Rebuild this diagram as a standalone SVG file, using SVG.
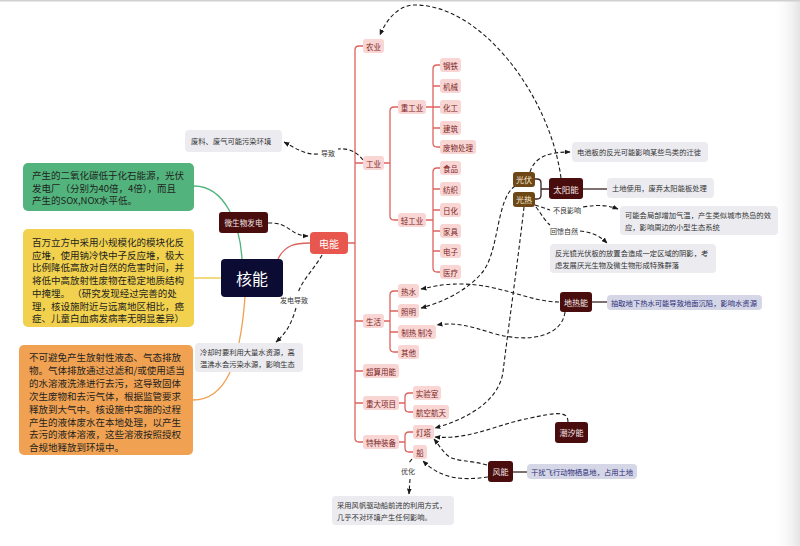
<svg xmlns="http://www.w3.org/2000/svg" width="800" height="546" viewBox="0 0 800 546">
<defs>
<marker id="arr" viewBox="0 0 10 10" refX="9" refY="5" markerWidth="6" markerHeight="6" markerUnits="userSpaceOnUse" orient="auto">
<path d="M0,1 L10,5 L0,9 z" fill="#1a1a1a"/>
</marker>
<linearGradient id="edge" x1="0" y1="0" x2="1" y2="0">
<stop offset="0" stop-color="#ffffff" stop-opacity="0"/>
<stop offset="1" stop-color="#e4e4e4"/>
</linearGradient>
</defs>
<style>
text { font-family: "Noto Sans CJK SC", "Noto Sans", sans-serif; }
.pill rect { fill: #f9d6d4; }
.pill text { fill: #7a1f1f; font-size: 7.5px; text-anchor: middle; dominant-baseline: central; }
.tree { stroke: #dc635d; stroke-width: 1.3; fill: none; }
.dash { stroke: #1a1a1a; stroke-width: 1.1; stroke-dasharray: 4 2.5; fill: none; }
.arrow { marker-end: url(#arr); }
.solid { stroke: #3a2222; stroke-width: 1.3; fill: none; }
.note rect { fill: #ebebf0; }
.note text { fill: #333333; font-size: 7.3px; dominant-baseline: central; }
.bnote rect { fill: #d5d7e6; }
.bnote text { fill: #2d2d7a; font-size: 7.3px; dominant-baseline: central; }
.dark rect { fill: #4a0d0d; }
.dark text { fill: #f3e6e6; font-size: 8px; text-anchor: middle; dominant-baseline: central; }
.gold rect { fill: #6e4716; }
.gold text { fill: #f6ecd8; font-size: 8px; text-anchor: middle; dominant-baseline: central; }
.lbl { fill: #333333; font-size: 7px; text-anchor: middle; dominant-baseline: central; }
.big text { fill: #1f1f1f; font-size: 9.5px; }
</style>

<rect x="0" y="0" width="800" height="546" fill="#ffffff"/>
<rect x="772" y="0" width="28" height="546" fill="url(#edge)"/>
<rect x="0" y="0" width="800" height="1.5" fill="#d0d0d0"/>

<g id="connectors">
<!-- left side solid -->
<path d="M194,186 C225,186 240,225 242,259" stroke="#4cb47a" stroke-width="1.3" fill="none"/>
<path d="M194,278 H221" stroke="#e8c93a" stroke-width="1.3" fill="none"/>
<path d="M245,297 C240,365 225,400 193,400" stroke="#ef9f4f" stroke-width="1.3" fill="none"/>
<path d="M278,259 C285,245 295,243 310,243" class="tree"/>
<!-- tree -->
<path class="tree" d="M363,46 H359 Q355,46 355,50 V438 Q355,442 359,442 H363"/>
<path class="tree" d="M348,243 H355 M355,163 H363 M355,321 H363 M355,371 H363 M355,403 H363"/>
<path class="tree" d="M384,163 H390 M398,107 H394 Q390,107 390,111 V216 Q390,220 394,220 H398"/>
<path class="tree" d="M426,107 H440 M440,65 H437 Q433,65 433,69 V143 Q433,147 437,147 H440 M433,86 H440 M433,128 H440"/>
<path class="tree" d="M426,220 H433 M440,168 H437 Q433,168 433,172 V268 Q433,272 437,272 H440 M433,189 H440 M433,210 H440 M433,231 H440 M433,251 H440"/>
<path class="tree" d="M384,321 H390 M398,291 H394 Q390,291 390,295 V348 Q390,352 394,352 H398 M390,311 H398 M390,332 H398"/>
<path class="tree" d="M399,403 H405 M413,393 H409 Q405,393 405,397 V408 Q405,412 409,412 H413"/>
<path class="tree" d="M399,442 H405 M413,432 H409 Q405,432 405,436 V448 Q405,452 409,452 H413"/>
<!-- solid dark -->
<path class="solid" d="M549,189 H541 M535,179 H537 Q541,179 541,183 V195 Q541,199 537,199 H535"/>
<path class="solid" d="M583,189 H607"/>
<path class="solid" d="M592,302 H607"/>
<path class="solid" d="M513,472 H527"/>
<!-- dashed -->
<path class="dash arrow" d="M268,223 C290,222 290,236 308,236"/>
<path class="dash" d="M322,255 C315,268 302,280 298,293"/>
<path class="dash arrow" d="M296,308 C291,325 286,333 276,342"/>
<path class="dash" d="M363,160 C356,151 348,148 338,149"/>
<path class="dash arrow" d="M318,154 C305,155 295,148 284,142"/>
<path class="dash arrow" d="M530,172 C535,156 550,152 570,152"/>
<path class="dash" d="M535,205 L550,210"/>
<path class="dash arrow" d="M583,207 C600,204 610,206 618,209"/>
<path class="dash" d="M536,207 C542,215 545,221 550,225"/>
<path class="dash arrow" d="M580,231 C592,232 600,236 607,243"/>
<path class="dash arrow" d="M561,178 C550,95 480,3 413,5 C398,6 386,20 380,35"/>
<path class="dash arrow" d="M515,186 C495,200 500,255 480,275 C465,292 440,303 421,308"/>
<path class="dash arrow" d="M524,207 C518,260 508,330 503,372 C499,400 470,418 435,428"/>
<path class="dash arrow" d="M559,302 C530,302 500,284 460,284 C440,284 432,287 421,289"/>
<path class="dash arrow" d="M565,312 C562,336 530,344 492,333 C470,326 455,322 437,325"/>
<path class="dash arrow" d="M568,422 C568,410 555,413 530,418 C495,425 470,440 435,437"/>
<path class="dash arrow" d="M487,465 C470,460 455,462 447,455 C441,449 438,444 434,439"/>
<path class="dash arrow" d="M488,477 C460,481 440,478 423,461"/>
<path class="dash" d="M412,459 L408,464"/>
<path class="dash arrow" d="M410,479 L409,494"/>
<text class="lbl" x="294" y="300">发电导致</text>
<text class="lbl" x="328" y="153">导致</text>
<text class="lbl" x="567" y="210">不良影响</text>
<text class="lbl" x="564" y="231">回馈自然</text>
<text class="lbl" x="408" y="471">优化</text>
</g>

<g id="left-green" class="big"><rect x="23" y="163" width="171" height="48" rx="5" fill="#52b47c"/>
<text x="32" y="175" dominant-baseline="central">产生的二氧化碳低于化石能源，光伏</text>
<text x="32" y="187.5" dominant-baseline="central">发电厂（分别为40倍，4倍），而且</text>
<text x="32" y="200" dominant-baseline="central">产生的SOx,NOx水平低。</text></g>

<g id="left-yellow" class="big"><rect x="23" y="229" width="171" height="98" rx="5" fill="#f1d14d"/>
<text x="32" y="242" dominant-baseline="central">百万立方中采用小规模化的模块化反</text>
<text x="32" y="254.7" dominant-baseline="central">应堆，使用钠冷快中子反应堆，极大</text>
<text x="32" y="267.4" dominant-baseline="central">比例降低高放对自然的危害时间，并</text>
<text x="32" y="280.1" dominant-baseline="central">将低中高放射性废物在稳定地质结构</text>
<text x="32" y="292.8" dominant-baseline="central">中掩埋。 （研究发现经过完善的处</text>
<text x="32" y="305.5" dominant-baseline="central">理，核设施附近与远离地区相比，癌</text>
<text x="32" y="318.2" dominant-baseline="central">症、儿童白血病发病率无明显差异）</text></g>

<g id="left-orange" class="big"><rect x="19" y="345" width="174" height="110" rx="5" fill="#f0a252"/>
<text x="29" y="357" dominant-baseline="central">不可避免产生放射性液态、气态排放</text>
<text x="29" y="369.9" dominant-baseline="central">物。气体排放通过过滤和/或使用适当</text>
<text x="29" y="382.8" dominant-baseline="central">的水溶液洗涤进行去污，这导致固体</text>
<text x="29" y="395.7" dominant-baseline="central">次生废物和去污气体，根据监管要求</text>
<text x="29" y="408.6" dominant-baseline="central">释放到大气中。核设施中实施的过程</text>
<text x="29" y="421.5" dominant-baseline="central">产生的液体废水在本地处理，以产生</text>
<text x="29" y="434.4" dominant-baseline="central">去污的液体溶液，这些溶液按照授权</text>
<text x="29" y="447.3" dominant-baseline="central">合规地释放到环境中。</text></g>

<g id="hexin"><rect x="221" y="259" width="62" height="38" rx="4" fill="#0b0b33"/>
<text x="252" y="278" fill="#ffffff" font-size="16" text-anchor="middle" dominant-baseline="central">核能</text></g>
<g id="weisheng" class="dark"><rect x="219" y="212" width="49" height="21" rx="3"/><text x="243.5" y="222.5" style="font-size:7.6px">微生物发电</text></g>
<g id="dianneng"><rect x="310" y="232" width="38" height="22" rx="4" fill="#e8574e"/>
<text x="329" y="243" fill="#ffffff" font-size="10" text-anchor="middle" dominant-baseline="central">电能</text></g>

<g id="note-feiliao" class="note"><rect x="185" y="130" width="97" height="22" rx="4"/><text x="191" y="141">废料、废气可能污染环境</text></g>
<g id="note-lengque" class="note"><rect x="195" y="343" width="108" height="29" rx="4"/><text x="200" y="352">冷却时要利用大量水资源，高</text><text x="200" y="364">温沸水会污染水源，影响生态</text></g>

<g id="n-nongye" class="pill"><rect x="363" y="39" width="21" height="14" rx="3"/><text x="373.5" y="46">农业</text></g>
<g id="n-gongye" class="pill"><rect x="363" y="156" width="21" height="14" rx="3"/><text x="373.5" y="163">工业</text></g>
<g id="n-shenghuo" class="pill"><rect x="363" y="314" width="21" height="14" rx="3"/><text x="373.5" y="321">生活</text></g>
<g id="n-chaosuan" class="pill"><rect x="363" y="364" width="36" height="14" rx="3"/><text x="381" y="371">超算用能</text></g>
<g id="n-zhongda" class="pill"><rect x="363" y="396" width="36" height="14" rx="3"/><text x="381" y="403">重大项目</text></g>
<g id="n-tezhong" class="pill"><rect x="363" y="435" width="36" height="14" rx="3"/><text x="381" y="442">特种装备</text></g>
<g id="n-zhonggongye" class="pill"><rect x="398" y="100" width="28" height="14" rx="3"/><text x="412" y="107">重工业</text></g>
<g id="n-qinggongye" class="pill"><rect x="398" y="213" width="28" height="14" rx="3"/><text x="412" y="220">轻工业</text></g>
<g id="n-gangtie" class="pill"><rect x="440" y="58" width="21" height="14" rx="3"/><text x="450.5" y="65">钢铁</text></g>
<g id="n-jixie" class="pill"><rect x="440" y="79" width="21" height="14" rx="3"/><text x="450.5" y="86">机械</text></g>
<g id="n-huagong" class="pill"><rect x="440" y="100" width="21" height="14" rx="3"/><text x="450.5" y="107">化工</text></g>
<g id="n-jianzhu" class="pill"><rect x="440" y="121" width="21" height="14" rx="3"/><text x="450.5" y="128">建筑</text></g>
<g id="n-feiwu" class="pill"><rect x="440" y="140" width="36" height="14" rx="3"/><text x="458" y="147">废物处理</text></g>
<g id="n-shipin" class="pill"><rect x="440" y="161" width="21" height="14" rx="3"/><text x="450.5" y="168">食品</text></g>
<g id="n-fangzhi" class="pill"><rect x="440" y="182" width="21" height="14" rx="3"/><text x="450.5" y="189">纺织</text></g>
<g id="n-rihua" class="pill"><rect x="440" y="203" width="21" height="14" rx="3"/><text x="450.5" y="210">日化</text></g>
<g id="n-jiaju" class="pill"><rect x="440" y="224" width="21" height="14" rx="3"/><text x="450.5" y="231">家具</text></g>
<g id="n-dianzi" class="pill"><rect x="440" y="244" width="21" height="14" rx="3"/><text x="450.5" y="251">电子</text></g>
<g id="n-yiliao" class="pill"><rect x="440" y="265" width="21" height="14" rx="3"/><text x="450.5" y="272">医疗</text></g>
<g id="n-reshui" class="pill"><rect x="398" y="284" width="21" height="14" rx="3"/><text x="408.5" y="291">热水</text></g>
<g id="n-zhaoming" class="pill"><rect x="398" y="304" width="21" height="14" rx="3"/><text x="408.5" y="311">照明</text></g>
<g id="n-zhire" class="pill"><rect x="398" y="325" width="38" height="14" rx="3"/><text x="417" y="332">制热 制冷</text></g>
<g id="n-qita" class="pill"><rect x="398" y="345" width="21" height="14" rx="3"/><text x="408.5" y="352">其他</text></g>
<g id="n-shiyanshi" class="pill"><rect x="413" y="386" width="28" height="14" rx="3"/><text x="427" y="393">实验室</text></g>
<g id="n-hangkong" class="pill"><rect x="413" y="405" width="36" height="14" rx="3"/><text x="431" y="412">航空航天</text></g>
<g id="n-dengta" class="pill"><rect x="413" y="425" width="21" height="14" rx="3"/><text x="423.5" y="432">灯塔</text></g>
<g id="n-chuan" class="pill"><rect x="413" y="445" width="14" height="14" rx="3"/><text x="420" y="452">船</text></g>

<g id="taiyang" class="dark"><rect x="549" y="178" width="34" height="21" rx="3"/><text x="566" y="188.5" style="font-size:8.5px">太阳能</text></g>
<g id="guangfu" class="gold"><rect x="513" y="172" width="22" height="15" rx="3"/><text x="524" y="179.5">光伏</text></g>
<g id="guangre" class="gold"><rect x="513" y="192" width="22" height="15" rx="3"/><text x="524" y="199.5">光热</text></g>
<g id="dire" class="dark"><rect x="560" y="292" width="32" height="20" rx="3"/><text x="576" y="302">地热能</text></g>
<g id="chaoxi" class="dark"><rect x="555" y="422" width="33" height="21" rx="3"/><text x="571.5" y="432.5">潮汐能</text></g>
<g id="fengneng" class="dark"><rect x="488" y="461" width="25" height="21" rx="3"/><text x="500.5" y="471.5">风能</text></g>

<g id="note-dianchi" class="note"><rect x="572" y="142" width="136" height="20" rx="4"/><text x="577" y="152">电池板的反光可能影响某些鸟类的迁徙</text></g>
<g id="note-tudi" class="note"><rect x="607" y="178" width="107" height="20" rx="4"/><text x="612" y="188">土地使用，废弃太阳能板处理</text></g>
<g id="note-qiwen" class="note"><rect x="620" y="206" width="158" height="29" rx="4"/><text x="625" y="215">可能会局部增加气温，产生类似城市热岛的效</text><text x="625" y="227">应，影响周边的小型生态系统</text></g>
<g id="note-fanguang" class="note"><rect x="550" y="244" width="166" height="29" rx="4"/><text x="555" y="253">反光镜光伏板的放置会造成一定区域的阴影，考</text><text x="555" y="265">虑发展厌光生物及微生物形成特殊群落</text></g>
<g id="note-chouqu" class="bnote"><rect x="607" y="295" width="155" height="15" rx="4"/><text x="611" y="302.5">抽取地下热水可能导致地面沉陷，影响水资源</text></g>
<g id="note-ganrao" class="bnote"><rect x="527" y="464" width="110" height="15" rx="4"/><text x="531" y="471.5">干扰飞行动物栖息地，占用土地</text></g>
<g id="note-fengfan" class="note"><rect x="332" y="496" width="122" height="29" rx="4"/><text x="337" y="505">采用风帆驱动船前进的利用方式，</text><text x="337" y="517">几乎不对环境产生任何影响。</text></g>
</svg>
